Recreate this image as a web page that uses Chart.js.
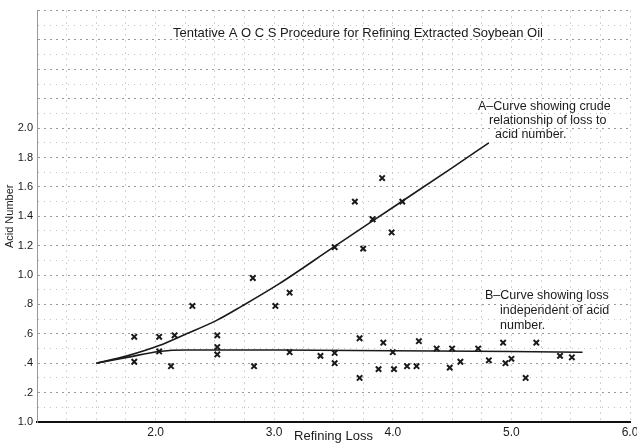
<!DOCTYPE html>
<html>
<head>
<meta charset="utf-8">
<script src="https://cdn.jsdelivr.net/npm/chart.js@4.4.0/dist/chart.umd.min.js"></script>
<style>
  html, body { margin: 0; padding: 0; background: #fff; }
</style>
</head>
<body>
<canvas id="chart" width="637" height="444"></canvas>
<script>
// text
const chartTitle = "Tentative A O C S Procedure for Refining Extracted Soybean Oil";
const xTitle = "Refining Loss";
const yTitle = "Acid Number";
const noteA = ["A–Curve showing crude", "relationship of loss to", "acid number."];
const noteB = ["B–Curve showing loss", "independent of acid", "number."];

// tick labels as printed on the sheet
const xTickLabels = { 2: "2.0", 3: "3.0", 4: "4.0", 5: "5.0", 6: "6.0" };
const yTickLabels = ["1.0", ".2", ".4", ".6", ".8", "1.0", "1.2", "1.4", "1.6", "1.8", "2.0"];

// curve A (crude relationship)
const curveALoss = [1.50, 1.76, 2.03, 2.26, 2.51, 2.73, 3.04, 3.50, 4.00, 4.50, 4.81];
const curveAAcid = [0.40, 0.45, 0.52, 0.60, 0.69, 0.79, 0.94, 1.19, 1.46, 1.73, 1.90];

// curve B (loss independent of acid number)
const curveBLoss = [1.50, 1.76, 2.03, 2.26, 3.04, 4.00, 5.00, 5.60];
const curveBAcid = [0.40, 0.44, 0.48, 0.49, 0.49, 0.485, 0.48, 0.475];

// observed samples
const sampleLoss = [2.82, 2.31, 3.01, 1.82, 2.03, 2.16, 2.52, 2.03, 2.52, 2.52, 1.82, 2.13, 2.83,
  3.91, 3.68, 4.08, 3.83, 3.99, 3.51, 3.75, 3.13,
  3.13, 3.39, 3.51, 3.51, 3.72, 3.72, 3.92, 4.00, 3.88, 4.01, 4.12, 4.20, 4.22, 4.37, 4.50,
  4.48, 4.57, 4.72, 4.81, 4.93, 4.95, 5.00, 5.12, 5.21, 5.41, 5.51];
const sampleAcid = [0.98, 0.79, 0.79, 0.58, 0.58, 0.59, 0.59, 0.48, 0.51, 0.46, 0.41, 0.38, 0.38,
  1.66, 1.50, 1.50, 1.38, 1.29, 1.19, 1.18, 0.88,
  0.475, 0.45, 0.47, 0.40, 0.57, 0.30, 0.54, 0.475, 0.36, 0.36, 0.38, 0.38, 0.55, 0.50, 0.50,
  0.37, 0.41, 0.50, 0.42, 0.54, 0.40, 0.43, 0.30, 0.54, 0.45, 0.44];

const toPoints = (xs, ys) => xs.map((x, i) => ({ x: x, y: ys[i] }));

const ink = "#1a1a1a";
const fontFamily = "'Liberation Sans', 'DejaVu Sans', sans-serif";
const isMajor = (v) => Math.round(v * 10) % 2 === 0;

const textPlugin = {
  id: "sheetText",
  afterDraw(chart) {
    const ctx = chart.ctx;
    ctx.save();
    ctx.fillStyle = ink;
    ctx.textBaseline = "middle";
    ctx.textAlign = "center";
    ctx.font = "13px " + fontFamily;
    ctx.fillText(chartTitle, 358, 33);
    ctx.textAlign = "left";
    ctx.font = "12.5px " + fontFamily;
    ctx.fillText(noteA[0], 478, 107);
    ctx.fillText(noteA[1], 489, 121);
    ctx.fillText(noteA[2], 495, 135);
    ctx.fillText(noteB[0], 485, 296);
    ctx.fillText(noteB[1], 500, 311);
    ctx.fillText(noteB[2], 500, 326);
    ctx.restore();
  }
};

new Chart(document.getElementById("chart").getContext("2d"), {
  type: "scatter",
  data: {
    datasets: [
      {
        label: "A",
        data: toPoints(curveALoss, curveAAcid),
        showLine: true,
        borderColor: ink,
        borderWidth: 1.6,
        pointRadius: 0,
        cubicInterpolationMode: "monotone"
      },
      {
        label: "B",
        data: toPoints(curveBLoss, curveBAcid),
        showLine: true,
        borderColor: ink,
        borderWidth: 1.6,
        pointRadius: 0,
        cubicInterpolationMode: "monotone"
      },
      {
        label: "Samples",
        data: toPoints(sampleLoss, sampleAcid),
        showLine: false,
        pointStyle: "crossRot",
        pointRadius: 3.8,
        borderWidth: 2,
        borderColor: ink
      }
    ]
  },
  options: {
    responsive: false,
    animation: false,
    layout: { padding: { top: 8, right: 7, left: 0, bottom: 0 } },
    plugins: {
      legend: { display: false },
      tooltip: { enabled: false }
    },
    scales: {
      x: {
        type: "linear",
        min: 1,
        max: 6,
        afterFit(scale) {
          scale.height = 22;
          scale.paddingRight = 0;
          scale.paddingLeft = 0;
        },
        ticks: {
          stepSize: 0.25,
          autoSkip: false,
          maxRotation: 0,
          padding: 3,
          color: ink,
          font: { family: fontFamily, size: 12 },
          callback: (v) => xTickLabels[v] || ""
        },
        grid: {
          drawTicks: false,
          color: "#a8a8a8",
          lineWidth: 1
        },
        border: { color: "#111", width: 2, dash: [1, 5] },
        title: {
          display: true,
          text: xTitle,
          color: ink,
          font: { family: fontFamily, size: 13 },
          padding: { top: 0, bottom: 0 }
        }
      },
      y: {
        min: 0,
        max: 2.8,
        afterFit(scale) { scale.width = 37; },
        ticks: {
          stepSize: 0.1,
          autoSkip: false,
          padding: 4,
          color: ink,
          font: { family: fontFamily, size: 11 },
          callback: (v) => {
            const k = Math.round(v * 10);
            return (k % 2 === 0 && k <= 20) ? yTickLabels[k / 2] : "";
          }
        },
        grid: {
          drawTicks: false,
          color: (c) => (isMajor(c.tick.value) ? "#999999" : "#c2c2c2"),
          lineWidth: 1
        },
        border: {
          color: "#999",
          width: 1,
          dash: (c) => (c.tick && isMajor(c.tick.value) ? [2, 4] : [1, 5])
        },
        title: {
          display: true,
          text: yTitle,
          color: ink,
          font: { family: fontFamily, size: 11 },
          padding: { top: 3, bottom: 0 }
        }
      }
    }
  },
  plugins: [textPlugin]
});
</script>
</body>
</html>
